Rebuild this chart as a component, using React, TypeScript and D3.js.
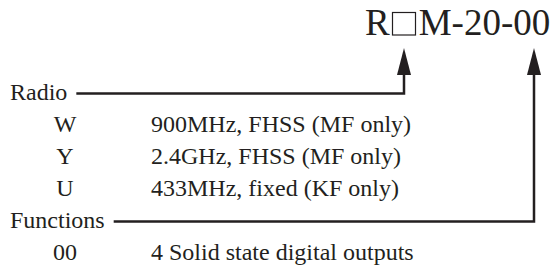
import { useEffect, useRef } from "react";
import * as d3 from "d3";

// model code pieces, the empty box stands for the radio letter
const modelPrefix = "R";
const modelSuffix = "M-20-00";

const sections = ["Radio", "Functions"];
const radioCodes = ["W", "Y", "U"];
const radioDescs = ["900MHz, FHSS (MF only)", "2.4GHz, FHSS (MF only)", "433MHz, fixed (KF only)"];
const functionCodes = ["00"];
const functionDescs = ["4 Solid state digital outputs"];

const W = 553;
const H = 269;
const INK = "#231f20";
const FONT = "'Liberation Serif', serif";

export default function App() {
  const svgRef = useRef<SVGSVGElement>(null);

  useEffect(() => {
    if (!svgRef.current) return;
    const svg = d3.select(svgRef.current);
    svg.selectAll("*").remove();

    // one row per line of the legend table
    const rows = [
      { kind: "section", code: sections[0], desc: "" },
      ...radioCodes.map((c, i) => ({ kind: "item", code: c, desc: radioDescs[i] })),
      { kind: "section", code: sections[1], desc: "" },
      ...functionCodes.map((c, i) => ({ kind: "item", code: c, desc: functionDescs[i] })),
    ];

    const y = d3.scalePoint<number>()
      .domain(d3.range(rows.length))
      .range([100, 260]);

    const g = svg.append("g").style("font-family", FONT).attr("fill", INK);

    // title: R [] M-20-00
    const title = g.append("text")
      .attr("x", 365)
      .attr("y", 35)
      .attr("font-size", 37);
    const rSpan = title.append("tspan").text(modelPrefix);
    title.append("tspan").attr("dx", 29).text(modelSuffix);

    const rBox = (rSpan.node() as SVGTSpanElement).getBBox();
    const boxX = rBox.x + rBox.width + 2.5;
    g.append("rect")
      .attr("x", boxX)
      .attr("y", 12.5)
      .attr("width", 23)
      .attr("height", 22.5)
      .attr("fill", "none")
      .attr("stroke", INK)
      .attr("stroke-width", 1.2);

    const rowG = g.selectAll("g.row")
      .data(rows)
      .join("g")
      .attr("class", "row")
      .attr("transform", (_, i) => `translate(0,${y(i)})`)
      .attr("font-size", 24);

    const codeText = rowG.append("text")
      .attr("x", d => (d.kind === "section" ? 10 : 65))
      .attr("text-anchor", d => (d.kind === "section" ? "start" : "middle"))
      .text(d => d.code);

    rowG.filter(d => d.kind === "item")
      .append("text")
      .attr("x", 151)
      .text(d => d.desc);

    // leader lines from section labels up to the code positions
    const arrowXs = [boxX + 11.5, 534];
    const tipY = 48;
    const headY = 75;
    const line = d3.line<[number, number]>();

    const sectionIdx = rows.map((r, i) => (r.kind === "section" ? i : -1)).filter(i => i >= 0);
    sectionIdx.forEach((ri, k) => {
      const node = codeText.filter((_, i) => i === ri).node() as SVGTextElement;
      const bb = node.getBBox();
      const ly = y(ri)! - 6.5;
      const ax = arrowXs[k];
      g.append("path")
        .attr("d", line([[bb.x + bb.width + 9, ly], [ax, ly], [ax, headY - 2]]))
        .attr("fill", "none")
        .attr("stroke", INK)
        .attr("stroke-width", 2.5);
      g.append("path")
        .attr("d", line([[ax, tipY], [ax - 7, headY], [ax + 7, headY]]) + "Z")
        .attr("fill", INK);
    });
  }, []);

  return (
    <svg
      ref={svgRef}
      width={W}
      height={H}
      style={{ position: "absolute", left: 0, top: 0, background: "#fff" }}
    />
  );
}
